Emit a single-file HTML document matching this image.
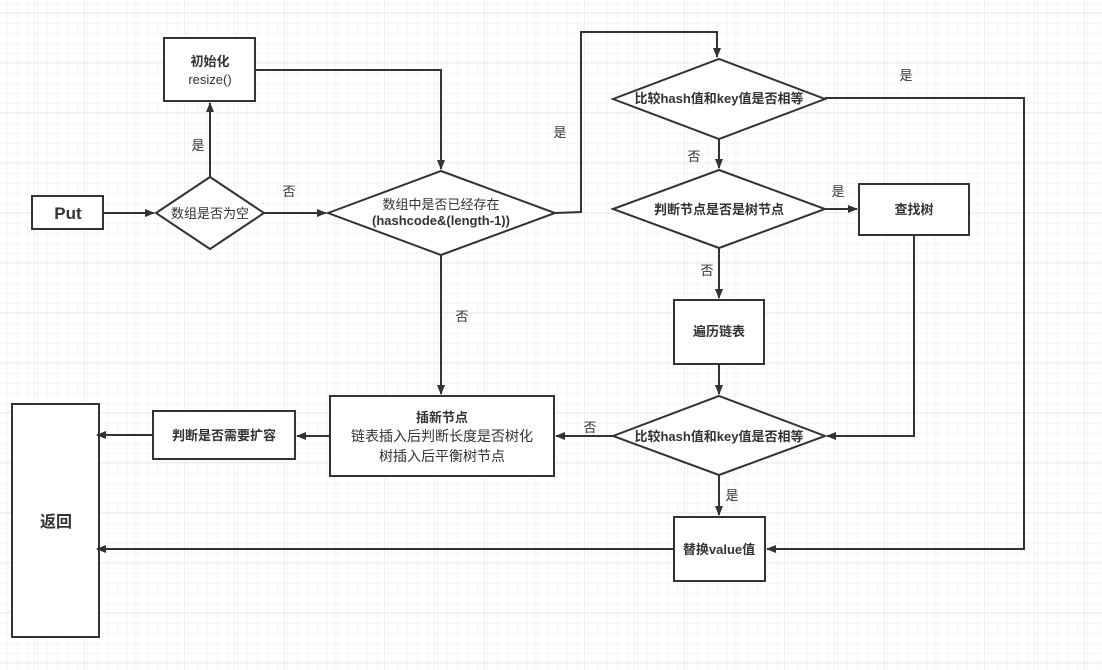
<!DOCTYPE html>
<html><head><meta charset="utf-8"><style>
html,body{margin:0;padding:0;background:#fff;}
svg{display:block;font-family:"Liberation Sans","Noto Sans CJK SC",sans-serif;}
</style></head><body>
<svg width="1102" height="670" xmlns="http://www.w3.org/2000/svg">
<defs>
<pattern id="g" x="4" y="2" width="10" height="10" patternUnits="userSpaceOnUse"><path d="M10 0V10M0 10H10" fill="none" stroke="#efefef" stroke-width="1"/></pattern>
<pattern id="G" x="34" y="12" width="50" height="50" patternUnits="userSpaceOnUse"><rect width="50" height="50" fill="url(#g)"/><path d="M0 0V50M0 0H50" fill="none" stroke="#e2e2e2" stroke-width="1"/></pattern>
<marker id="a" markerWidth="10" markerHeight="10" refX="9" refY="5" orient="auto" markerUnits="userSpaceOnUse"><path d="M0 1L10 5L0 9Z" fill="#333"/></marker>
</defs>
<rect width="1102" height="670" fill="url(#G)"/>
<g fill="#fff" stroke="#333" stroke-width="2">
<rect x="32" y="196" width="71" height="33"/>
<polygon points="156,213 210,177 264,213 210,249"/>
<rect x="164" y="38" width="91" height="63"/>
<polygon points="328,213 441,171 555,213 441,255"/>
<polygon points="613,99 719,59 825,99 719,139"/>
<polygon points="613,209 719,170 825,209 719,248"/>
<rect x="859" y="184" width="110" height="51"/>
<rect x="674" y="300" width="90" height="64"/>
<polygon points="613,436 719,396 825,436 719,475"/>
<rect x="330" y="396" width="224" height="80"/>
<rect x="153" y="411" width="142" height="48"/>
<rect x="12" y="404" width="87" height="233"/>
<rect x="674" y="517" width="91" height="64"/>
</g>
<g fill="none" stroke="#333" stroke-width="2">
<path d="M103 213H154" marker-end="url(#a)"/>
<path d="M264 213H326" marker-end="url(#a)"/>
<path d="M210 177V103" marker-end="url(#a)"/>
<path d="M255 70H441V169" marker-end="url(#a)"/>
<path d="M555 213L581 212V32H717V57" marker-end="url(#a)"/>
<path d="M825 98H1024V549H767" marker-end="url(#a)"/>
<path d="M719 139V168" marker-end="url(#a)"/>
<path d="M825 209H857" marker-end="url(#a)"/>
<path d="M914 235V436H827" marker-end="url(#a)"/>
<path d="M719 248V298" marker-end="url(#a)"/>
<path d="M719 364V394" marker-end="url(#a)"/>
<path d="M613 436H556" marker-end="url(#a)"/>
<path d="M441 255V394" marker-end="url(#a)"/>
<path d="M330 436H297" marker-end="url(#a)"/>
<path d="M153 435H97" marker-end="url(#a)"/>
<path d="M719 475V515" marker-end="url(#a)"/>
<path d="M674 549H97" marker-end="url(#a)"/>
</g>
<g fill="#333" font-size="13" text-anchor="middle">
<text x="68" y="219" font-size="17" font-weight="bold">Put</text>
<text x="210" y="218">数组是否为空</text>
<text x="210" y="66" font-weight="bold">初始化</text>
<text x="210" y="84">resize()</text>
<text x="441" y="209">数组中是否已经存在</text>
<text x="441" y="225" font-weight="bold">(hashcode&amp;(length-1))</text>
<text x="719" y="103" font-weight="bold">比较hash值和key值是否相等</text>
<text x="719" y="214" font-weight="bold">判断节点是否是树节点</text>
<text x="914" y="214" font-weight="bold">查找树</text>
<text x="719" y="336" font-weight="bold">遍历链表</text>
<text x="719" y="441" font-weight="bold">比较hash值和key值是否相等</text>
<text x="442" y="422" font-weight="bold">插新节点</text>
<text x="442" y="441" font-size="14">链表插入后判断长度是否树化</text>
<text x="442" y="461" font-size="14">树插入后平衡树节点</text>
<text x="224" y="440" font-weight="bold">判断是否需要扩容</text>
<text x="56" y="527" font-size="16" font-weight="bold">返回</text>
<text x="719" y="554" font-weight="bold">替换value值</text>
<text x="198" y="150">是</text>
<text x="289" y="196">否</text>
<text x="560" y="137">是</text>
<text x="906" y="80">是</text>
<text x="694" y="161">否</text>
<text x="838" y="196">是</text>
<text x="707" y="275">否</text>
<text x="462" y="321">否</text>
<text x="590" y="432">否</text>
<text x="732" y="500">是</text>
</g>
</svg>
</body></html>
